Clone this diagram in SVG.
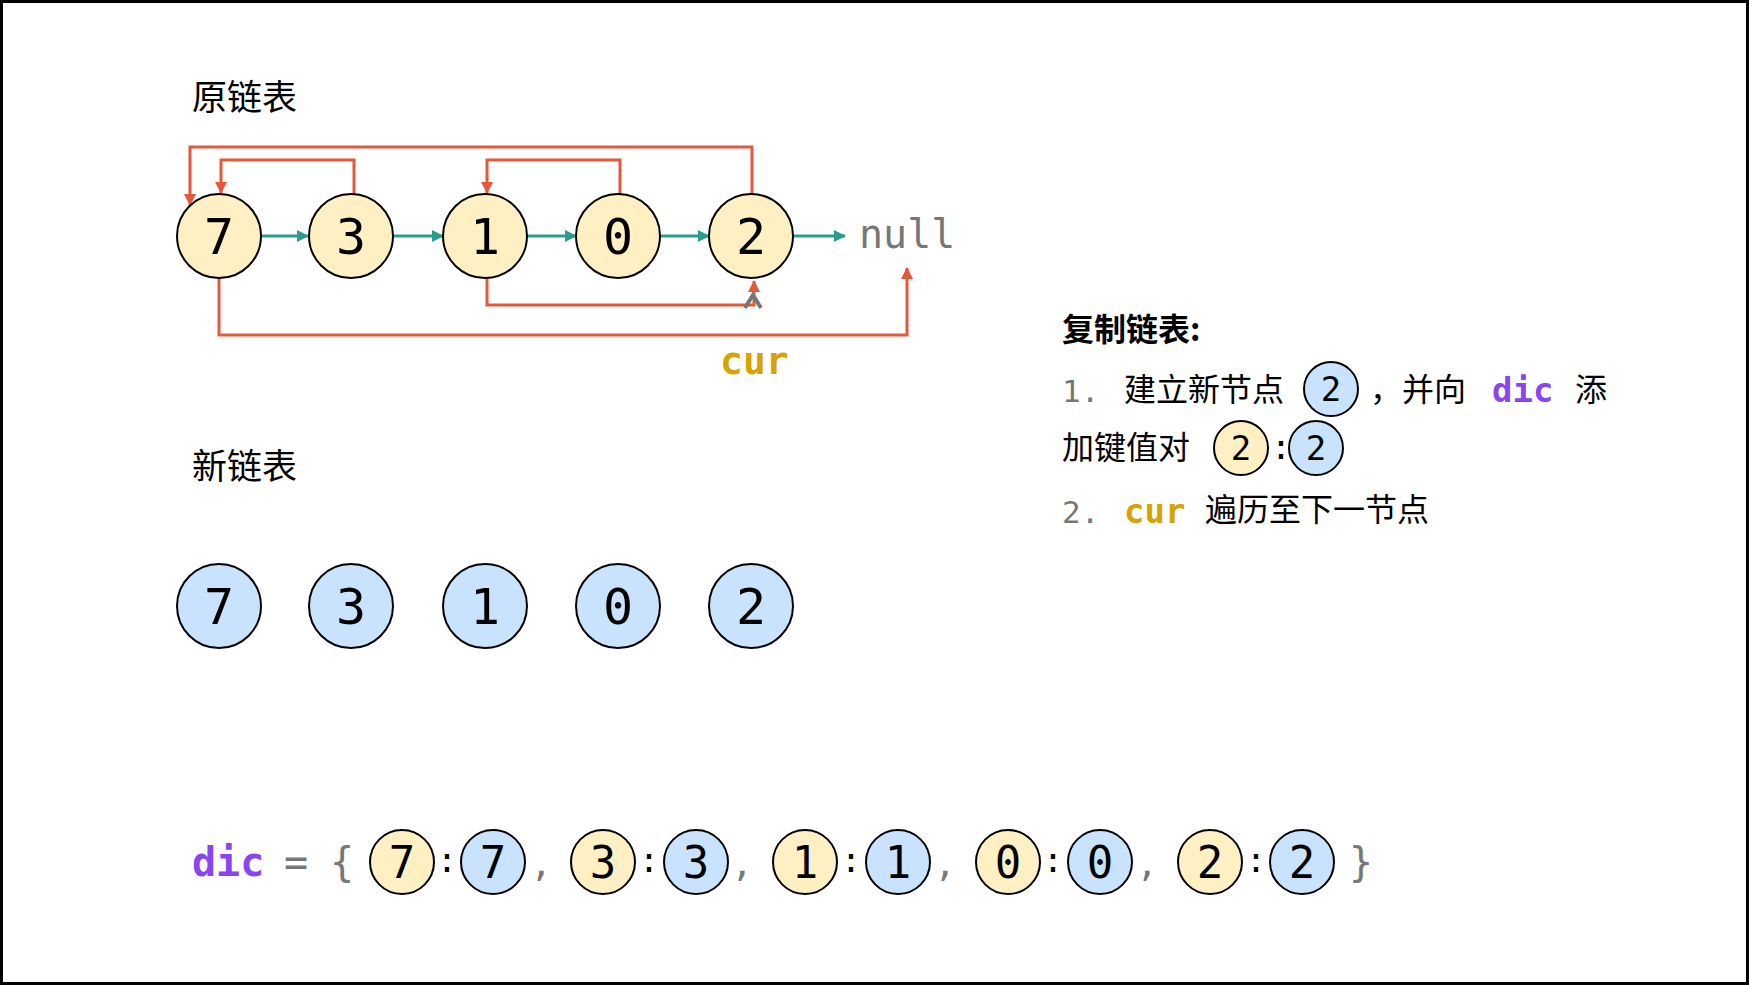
<svg xmlns="http://www.w3.org/2000/svg" width="1749" height="985" viewBox="0 0 1749 985">
<style>
.o{fill:#FFF0C4;stroke:#000;stroke-width:2}
.n{fill:#C9E3FF;stroke:#000;stroke-width:2}
.d{font-family:"DejaVu Sans Mono",monospace;font-size:50px;text-anchor:middle;fill:#000}
.ds{font-family:"DejaVu Sans Mono",monospace;font-size:34px;text-anchor:middle;fill:#000}
.dm{font-family:"DejaVu Sans Mono",monospace;font-size:44px;text-anchor:middle;fill:#000}
.cn{font-family:"Noto Sans CJK SC",sans-serif;font-size:35px;fill:#000}
.tx{font-family:"Noto Sans CJK SC",sans-serif;font-size:32px;fill:#000}
.g{font-family:"DejaVu Sans Mono",monospace;fill:#777}
.kw{font-family:"DejaVu Sans Mono",monospace;font-weight:bold;fill:#8A44F0}
.cur{font-family:"DejaVu Sans Mono",monospace;font-weight:bold;fill:#D6A300}
.r{fill:none;stroke:#E5593B;stroke-width:3}
.t{fill:none;stroke:#2A9D8F;stroke-width:3}
</style>
<defs>
<marker id="ar" markerWidth="12" markerHeight="12" refX="11" refY="6" orient="auto" markerUnits="userSpaceOnUse"><path d="M0,0L12,6L0,12z" fill="#E5593B"/></marker>
<marker id="at" markerWidth="12" markerHeight="12" refX="11" refY="6" orient="auto" markerUnits="userSpaceOnUse"><path d="M0,0L12,6L0,12z" fill="#2A9D8F"/></marker>
</defs>
<rect x="1.5" y="1.5" width="1746" height="982" fill="#fff" stroke="#000" stroke-width="3"/>
<text class="cn" x="192" y="110">原链表</text>
<text class="cn" x="192" y="479">新链表</text>
<g id="connectors">
<path class="t" d="M261,236H308" marker-end="url(#at)"/>
<path class="t" d="M393,236H443" marker-end="url(#at)"/>
<path class="t" d="M527,236H576" marker-end="url(#at)"/>
<path class="t" d="M660,236H709" marker-end="url(#at)"/>
<path class="t" d="M793,236H845" marker-end="url(#at)"/>
<path class="r" d="M752,196V147H190V205" marker-end="url(#ar)"/>
<path class="r" d="M354,196V160H221V193" marker-end="url(#ar)"/>
<path class="r" d="M620,196V160H487V193" marker-end="url(#ar)"/>
<path class="r" d="M487,278V305H754V281" marker-end="url(#ar)"/>
<path class="r" d="M219,278V335H907V268" marker-end="url(#ar)"/>
</g>
<path d="M745,308L753,295L761,308" fill="none" stroke="#777" stroke-width="4"/>
<text class="g" x="859" y="248" font-size="40">null</text>
<text class="cur" x="720" y="374" font-size="38">cur</text>
<g id="o7"><circle class="o" cx="219" cy="236" r="42"/><text class="d" x="219" y="254">7</text></g>
<g id="o3"><circle class="o" cx="351" cy="236" r="42"/><text class="d" x="351" y="254">3</text></g>
<g id="o1"><circle class="o" cx="485" cy="236" r="42"/><text class="d" x="485" y="254">1</text></g>
<g id="o0"><circle class="o" cx="618" cy="236" r="42"/><text class="d" x="618" y="254">0</text></g>
<g id="o2"><circle class="o" cx="751" cy="236" r="42"/><text class="d" x="751" y="254">2</text></g>
<g id="n7"><circle class="n" cx="219" cy="606" r="42"/><text class="d" x="219" y="624">7</text></g>
<g id="n3"><circle class="n" cx="351" cy="606" r="42"/><text class="d" x="351" y="624">3</text></g>
<g id="n1"><circle class="n" cx="485" cy="606" r="42"/><text class="d" x="485" y="624">1</text></g>
<g id="n0"><circle class="n" cx="618" cy="606" r="42"/><text class="d" x="618" y="624">0</text></g>
<g id="n2"><circle class="n" cx="751" cy="606" r="42"/><text class="d" x="751" y="624">2</text></g>
<text class="tx" x="1062" y="341" font-weight="bold">复制链表:</text>
<text class="g" x="1062" y="402" font-size="31">1.</text>
<text class="tx" x="1124" y="401">建立新节点</text>
<circle class="n" cx="1331" cy="389" r="27"/><text class="ds" x="1331" y="401">2</text>
<text class="tx" x="1370" y="401">，并向</text>
<text class="kw" x="1492" y="402" font-size="34">dic</text>
<text class="tx" x="1575" y="401">添</text>
<text class="tx" x="1062" y="459">加键值对</text>
<circle class="o" cx="1241" cy="448" r="27"/><text class="ds" x="1241" y="460">2</text>
<text class="ds" x="1281" y="459">:</text>
<circle class="n" cx="1316" cy="448" r="27"/><text class="ds" x="1316" y="460">2</text>
<text class="g" x="1062" y="523" font-size="31">2.</text>
<text class="cur" x="1124" y="523" font-size="34">cur</text>
<text class="tx" x="1205" y="521">遍历至下一节点</text>
<text class="kw" x="192" y="876" font-size="40">dic</text>
<text class="g" x="296" y="876" font-size="40" text-anchor="middle">=</text>
<text class="g" x="342" y="876" font-size="40" text-anchor="middle">{</text>
<text class="g" x="1361" y="876" font-size="40" text-anchor="middle">}</text>
<g id="dic">
<circle class="o" cx="402" cy="862" r="32"/><text class="dm" x="402" y="878">7</text><text class="ds" x="447" y="872">:</text><circle class="n" cx="493" cy="862" r="32"/><text class="dm" x="493" y="878">7</text><text class="g" x="541" y="876" font-size="36" text-anchor="middle">,</text>
<circle class="o" cx="603" cy="862" r="32"/><text class="dm" x="603" y="878">3</text><text class="ds" x="649" y="872">:</text><circle class="n" cx="696" cy="862" r="32"/><text class="dm" x="696" y="878">3</text><text class="g" x="742" y="876" font-size="36" text-anchor="middle">,</text>
<circle class="o" cx="805" cy="862" r="32"/><text class="dm" x="805" y="878">1</text><text class="ds" x="851" y="872">:</text><circle class="n" cx="898" cy="862" r="32"/><text class="dm" x="898" y="878">1</text><text class="g" x="945" y="876" font-size="36" text-anchor="middle">,</text>
<circle class="o" cx="1008" cy="862" r="32"/><text class="dm" x="1008" y="878">0</text><text class="ds" x="1053" y="872">:</text><circle class="n" cx="1100" cy="862" r="32"/><text class="dm" x="1100" y="878">0</text><text class="g" x="1147" y="876" font-size="36" text-anchor="middle">,</text>
<circle class="o" cx="1210" cy="862" r="32"/><text class="dm" x="1210" y="878">2</text><text class="ds" x="1256" y="872">:</text><circle class="n" cx="1302" cy="862" r="32"/><text class="dm" x="1302" y="878">2</text>
</g>
</svg>
